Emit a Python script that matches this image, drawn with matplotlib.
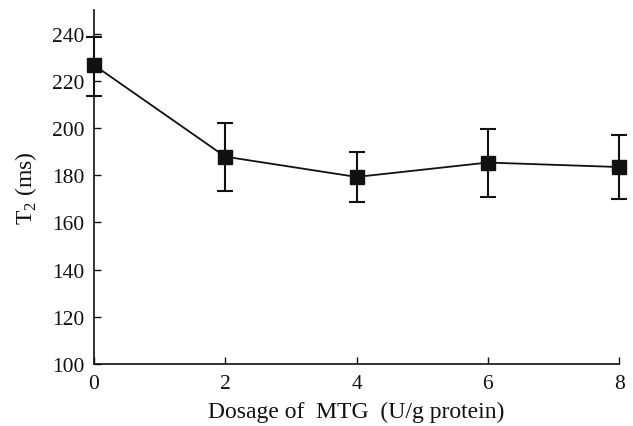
import matplotlib
matplotlib.use("Agg")
import matplotlib.pyplot as plt

# MTG dosage vs T2 relaxation time
dosage = [0, 2, 4, 6, 8]
t2_mean = [226.7, 187.9, 179.3, 185.4, 183.5]
t2_upper = [238.5, 202.2, 189.9, 199.7, 197.1]
t2_lower = [213.8, 173.4, 168.5, 170.9, 170.1]

err_low = [m - lo for m, lo in zip(t2_mean, t2_lower)]
err_high = [hi - m for m, hi in zip(t2_mean, t2_upper)]

plt.rcParams["font.family"] = ["Liberation Serif", "DejaVu Serif"]
plt.rcParams["mathtext.fontset"] = "custom"
plt.rcParams["mathtext.rm"] = "Liberation Serif"

fig = plt.figure(figsize=(6.33, 4.27), dpi=100)
ax = fig.add_axes([0.1485, 0.145, 0.8295, 0.829])

ax.errorbar(dosage, t2_mean, yerr=[err_low, err_high], color="#111111",
            marker="s", markersize=9.5, linewidth=1.3, elinewidth=1.5,
            capsize=5.5, capthick=1.5, clip_on=False, zorder=3)

ax.set_xlim(0, 8)
ax.set_ylim(100, 250)
ax.set_xticks(dosage)
ax.set_yticks(range(100, 241, 20))

for side in ("top", "right"):
    ax.spines[side].set_visible(False)
for side in ("left", "bottom"):
    ax.spines[side].set_linewidth(1.2)
    ax.spines[side].set_color("#111111")

ax.tick_params(direction="in", length=5, width=1, labelsize=15.5, colors="#111111")
ax.tick_params(axis="y", pad=7)
ax.tick_params(axis="x", pad=7)
ax.set_xlabel("Dosage of  MTG  (U/g protein)", fontsize=17, color="#111111", labelpad=6)
ax.set_ylabel("T$_2$ (ms)", fontsize=17, color="#111111", labelpad=9)

fig.savefig("out.png", dpi=100)
